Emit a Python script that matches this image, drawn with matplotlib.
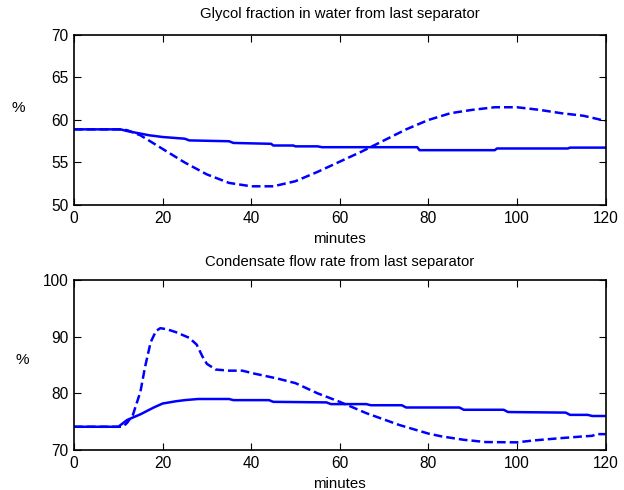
import matplotlib
matplotlib.use("Agg")
import matplotlib.pyplot as plt

plt.rcParams['font.family'] = ['Liberation Sans', 'DejaVu Sans']

# Glycol fraction in water (%)
glycol_t_solid = [0, 10.5, 12, 15, 17, 20, 25, 26, 35, 36, 44.5, 45, 49.5, 50, 55, 56,
                  77.5, 78, 95, 95.5, 111.5, 112, 120]
glycol_solid = [58.9, 58.9, 58.7, 58.4, 58.2, 58.0, 57.8, 57.6, 57.5, 57.3, 57.2, 57.0,
                57.0, 56.9, 56.9, 56.8, 56.8, 56.45, 56.45, 56.65, 56.65, 56.75, 56.75]
glycol_t_dashed = [0, 10, 12, 15, 20, 25, 30, 35, 40, 45, 50, 55, 60, 65, 70, 75, 80,
                   85, 90, 95, 100, 105, 110, 115, 120]
glycol_dashed = [58.9, 58.9, 58.8, 58.2, 56.6, 55.0, 53.6, 52.6, 52.2, 52.2, 52.8, 53.9,
                 55.1, 56.3, 57.6, 58.9, 60.0, 60.8, 61.2, 61.5, 61.5, 61.2, 60.8, 60.5, 59.9]

# Condensate flow rate (%)
cond_t_solid = [0, 10, 12, 15, 18, 20, 23, 25, 28, 35, 36, 44, 45, 57, 58, 66, 67, 74, 75,
                87, 88, 97, 98, 111, 112, 116, 117, 120]
cond_solid = [74.1, 74.1, 75.3, 76.3, 77.5, 78.2, 78.6, 78.8, 79.0, 79.0, 78.8, 78.8, 78.5,
              78.4, 78.1, 78.1, 77.9, 77.9, 77.5, 77.5, 77.1, 77.1, 76.7, 76.6, 76.2, 76.2,
              76.0, 76.0]
cond_t_dashed = [0, 11, 12, 13.3, 15, 16, 17.3, 18.5, 19.5, 21, 23, 26, 27.7, 29, 30, 32,
                 35, 38, 40.6, 46, 50, 55, 60, 66, 73.5, 80, 83, 88, 93, 100, 104, 110,
                 115, 117, 118, 120]
cond_dashed = [74.1, 74.1, 74.8, 76.2, 80.3, 84.5, 89.0, 91.0, 91.5, 91.3, 90.8, 89.8,
               88.6, 86.5, 85.2, 84.2, 84.0, 84.0, 83.5, 82.6, 81.8, 80.0, 78.5, 76.5,
               74.4, 72.9, 72.4, 71.8, 71.4, 71.35, 71.7, 72.1, 72.4, 72.5, 72.8, 72.8]

x_ticks = [0, 20, 40, 60, 80, 100, 120]

fig = plt.figure(figsize=(6.24, 4.9), dpi=100)
W, H = 624, 490
ax1 = fig.add_axes([74 / W, 1 - 205 / H, 531.5 / W, 170 / H])
ax2 = fig.add_axes([74 / W, 1 - 450 / H, 531.5 / W, 170 / H])

blue = '#0000ff'
lw = 1.8

panels = [
    (ax1, glycol_t_solid, glycol_solid, glycol_t_dashed, glycol_dashed,
     (50, 70), [50, 55, 60, 65, 70], 'Glycol fraction in water from last separator',
     12.3, (-0.105, 0.57)),
    (ax2, cond_t_solid, cond_solid, cond_t_dashed, cond_dashed,
     (70, 100), [70, 80, 90, 100], 'Condensate flow rate from last separator',
     10.2, (-0.098, 0.53)),
]

for ax, ts, ys, td, yd, ylim, yticks, title, tpad, ylab_xy in panels:
    ax.plot(ts, ys, color=blue, lw=lw, solid_joinstyle='round')
    ax.plot(td, yd, color=blue, lw=lw, linestyle=(0, (3.5, 1.6)))
    ax.set_xlim(0, 120)
    ax.set_ylim(*ylim)
    ax.set_xticks(x_ticks)
    ax.set_yticks(yticks)
    ax.tick_params(direction='in', length=5, width=0.8, top=True, right=True,
                   labelsize=11.2, pad=4)
    for s in ax.spines.values():
        s.set_linewidth(1.2)
    ax.set_title(title, fontsize=10.7, pad=tpad)
    ax.set_xlabel('minutes', fontsize=10.8, labelpad=4.5)
    ax.set_ylabel('%', fontsize=11, rotation=0, va='center', ha='center')
    ax.yaxis.set_label_coords(*ylab_xy)

fig.savefig('out.png', dpi=100)
